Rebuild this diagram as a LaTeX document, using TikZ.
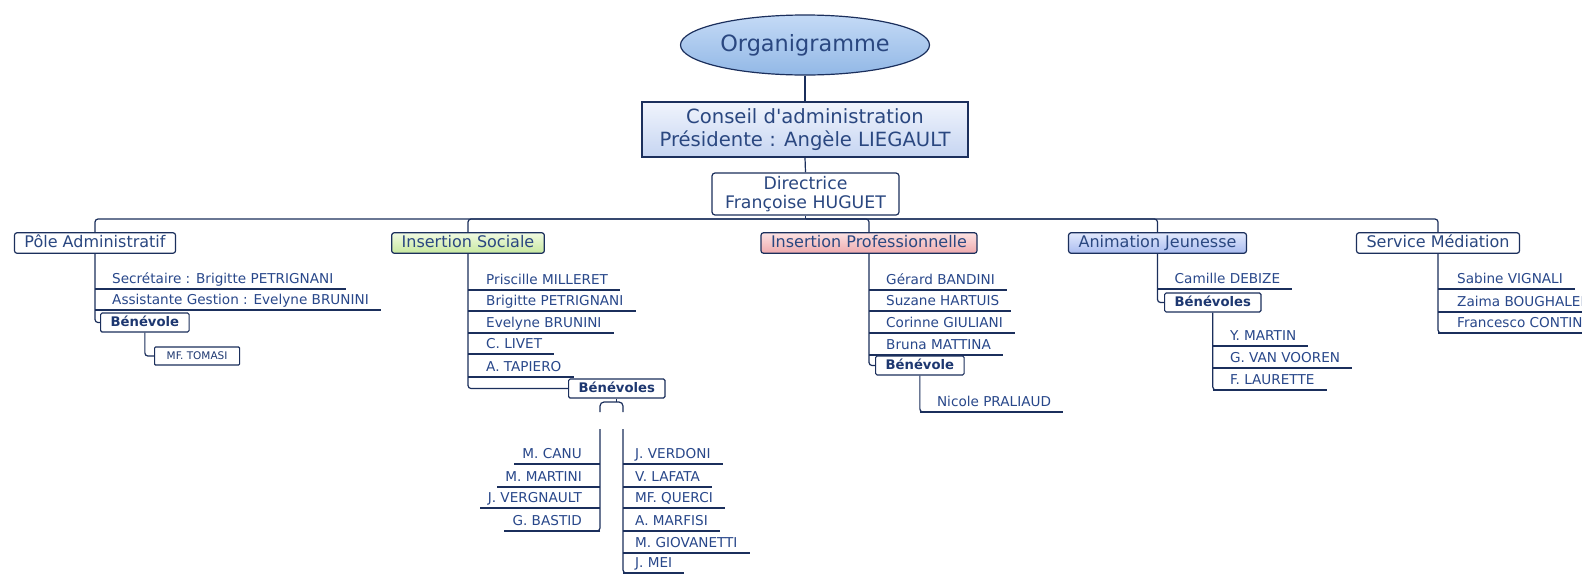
\documentclass[tikz,border=0pt]{standalone}
\usepackage{fontspec}
\setmainfont{DejaVu Sans}[Ligatures=TeXOff]
\usetikzlibrary{shapes.geometric,calc}
\definecolor{navy}{HTML}{1B2F5C}
\definecolor{lab}{HTML}{2A4780}
\definecolor{itm}{HTML}{28478A}
\definecolor{ben}{HTML}{1D3770}
\newcommand\itm[5]{%
  \coordinate (#1y) at (0,#4);
  \coordinate (#1t) at (#2 |- #1y);
  \node[item] (#1) at ($(#1t)+(#3,-6)$) {#5};
  \draw[conn] (#1t) -- ($(#1.base east)+(12,6)$);}
\newcommand\itl[5]{%
  \coordinate (#1y) at (0,#4);
  \coordinate (#1t) at (#2 |- #1y);
  \node[itemr] (#1) at ($(#1t)+(-#3,-6)$) {#5};
  \draw[conn] (#1t) -- ($(#1.base west)+(-8,6)$);}
\begin{document}
\begin{tikzpicture}[x=1pt,y=-1pt,
  conn/.style={draw=navy, line width=1.2pt, rounded corners=3pt},
  hbox/.style={draw=navy, line width=1.2pt, rounded corners=2.5pt, text=lab,
    font=\fontsize{16}{19}\selectfont, inner xsep=10pt, inner ysep=2.5pt,
    text height=12pt, text depth=3.5pt},
  item/.style={anchor=base west, inner sep=0pt, text=itm, font=\fontsize{13.6}{16}\selectfont},
  itemr/.style={item, anchor=base east},
  benbox/.style={draw=navy, line width=1.2pt, rounded corners=1.5pt, fill=white, text=ben,
    font=\bfseries\fontsize{13.2}{16}\selectfont, inner xsep=10pt, inner ysep=3pt,
    text height=10pt, text depth=3pt},
  smallbox/.style={draw=navy, line width=1.2pt, rounded corners=1pt, fill=white, text=ben,
    font=\fontsize{10.5}{12}\selectfont, minimum width=85pt, minimum height=18pt, inner sep=1pt}
]
\useasboundingbox (0,0) rectangle (1582,574);
\clip (0,0) rectangle (1582,574);
\fill[white] (0,0) rectangle (1582,574);

% top
\node[ellipse, draw=navy, line width=1.2pt, top color={rgb,255:red,196;green,218;blue,246}, bottom color={rgb,255:red,146;green,184;blue,230},
  minimum width=240pt, minimum height=60pt, text=lab, font=\fontsize{22.4}{26}\selectfont] (org) at (805,45) {Organigramme};
\node[draw=navy, line width=1.2pt, top color={rgb,255:red,240;green,244;blue,252}, bottom color={rgb,255:red,198;green,213;blue,242},
  minimum width=326pt, minimum height=55pt, align=center, text=lab, inner sep=2pt,
  font=\fontsize{19.6}{22.5}\selectfont] (ca) at (805,129.5) {Conseil d'administration\\Présidente : Angèle LIEGAULT};
\node[draw=navy, line width=1.2pt, rounded corners=3pt, fill=white, minimum width=187pt, minimum height=42pt,
  align=center, text=lab, inner sep=2pt, font=\fontsize{17.3}{19.5}\selectfont] (dir) at (805.5,194) {Directrice\\Françoise HUGUET};
\draw[conn] (org.south) -- (ca.north);
\draw[conn] (ca.south) -- (dir.north);
\coordinate (bus) at (805.5,219);
\draw[conn] (dir.south) -- (bus);

% branch boxes
\node[hbox, fill=white] (pole) at (95,243) {Pôle Administratif};
\node[hbox, top color={rgb,255:red,240;green,250;blue,226}, bottom color={rgb,255:red,200;green,232;blue,160}] (is) at (468,243) {Insertion Sociale};
\node[hbox, top color={rgb,255:red,252;green,226;blue,226}, bottom color={rgb,255:red,238;green,170;blue,174}] (ip) at (869,243) {Insertion Professionnelle};
\node[hbox, top color={rgb,255:red,226;green,233;blue,252}, bottom color={rgb,255:red,170;green,188;blue,240}] (aj) at (1157.5,243) {Animation Jeunesse};
\node[hbox, fill=white] (sm) at (1438,243) {Service Médiation};
\foreach \b in {pole,is,ip,aj,sm} \draw[conn] (bus) -| (\b.north);

% Pole Administratif
\itm{p1}{pole.south}{17}{289}{Secrétaire : Brigitte PETRIGNANI}
\itm{p2}{pole.south}{17}{310}{Assistante Gestion : Evelyne BRUNINI}
\node[benbox, anchor=west] (pb) at (100,322.5) {Bénévole};
\draw[conn] (pole.south) |- (pb.west);
\node[smallbox, anchor=west] (mf) at (154,356) {MF. TOMASI};
\draw[conn] (pb.south) |- (mf.west);

% Insertion Sociale
\itm{s1}{is.south}{18}{290}{Priscille MILLERET}
\itm{s2}{is.south}{18}{311}{Brigitte PETRIGNANI}
\itm{s3}{is.south}{18}{333}{Evelyne BRUNINI}
\itm{s4}{is.south}{18}{354}{C. LIVET}
\itm{s5}{is.south}{18}{377}{A. TAPIERO}
\node[benbox, anchor=west] (isb) at (568,388.5) {Bénévoles};
\draw[conn] (is.south) |- (isb.west);
\coordinate (brL) at (600,412);
\coordinate (brR) at (623,412);
\coordinate (brT) at (611.5,402);
\draw[conn] (isb.south) -- (isb.south |- brT);
\draw[conn, rounded corners=4pt] (brL) |- (brT) -| (brR);
\coordinate (benL) at (600,429);
\coordinate (benR) at (623,429);
\itl{l1}{benL}{18}{464}{M. CANU}
\itl{l2}{benL}{18}{487}{M. MARTINI}
\itl{l3}{benL}{18}{508}{J. VERGNAULT}
\itl{l4}{benL}{18}{531}{G. BASTID}
\draw[conn] (benL) |- ($(l4t)+(-8,0)$);
\itm{r1}{benR}{12}{464}{J. VERDONI}
\itm{r2}{benR}{12}{487}{V. LAFATA}
\itm{r3}{benR}{12}{508}{MF. QUERCI}
\itm{r4}{benR}{12}{531}{A. MARFISI}
\itm{r5}{benR}{12}{553}{M. GIOVANETTI}
\itm{r6}{benR}{12}{573}{J. MEI}
\draw[conn] (benR) |- ($(r6t)+(8,0)$);

% Insertion Professionnelle
\itm{i1}{ip.south}{17}{290}{Gérard BANDINI}
\itm{i2}{ip.south}{17}{311}{Suzane HARTUIS}
\itm{i3}{ip.south}{17}{333}{Corinne GIULIANI}
\itm{i4}{ip.south}{17}{355}{Bruna MATTINA}
\node[benbox, anchor=west] (ipb) at (875,365.5) {Bénévole};
\draw[conn] (ip.south) |- (ipb.west);
\itm{i5}{ipb.south}{17}{412}{Nicole PRALIAUD}
\draw[conn] (ipb.south) |- ($(i5t)+(8,0)$);

% Animation Jeunesse
\itm{a1}{aj.south}{17}{289}{Camille DEBIZE}
\node[benbox, anchor=west] (ajb) at (1164,302.5) {Bénévoles};
\draw[conn] (aj.south) |- (ajb.west);
\itm{a2}{ajb.south}{17}{346}{Y. MARTIN}
\itm{a3}{ajb.south}{17}{368}{G. VAN VOOREN}
\itm{a4}{ajb.south}{17}{390}{F. LAURETTE}
\draw[conn] (ajb.south) |- ($(a4t)+(8,0)$);

% Service Mediation
\itm{m1}{sm.south}{19}{289}{Sabine VIGNALI}
\itm{m2}{sm.south}{19}{312}{Zaima BOUGHALEM}
\itm{m3}{sm.south}{19}{333}{Francesco CONTINI}
\draw[conn] (sm.south) |- ($(m3t)+(8,0)$);
\end{tikzpicture}
\end{document}
